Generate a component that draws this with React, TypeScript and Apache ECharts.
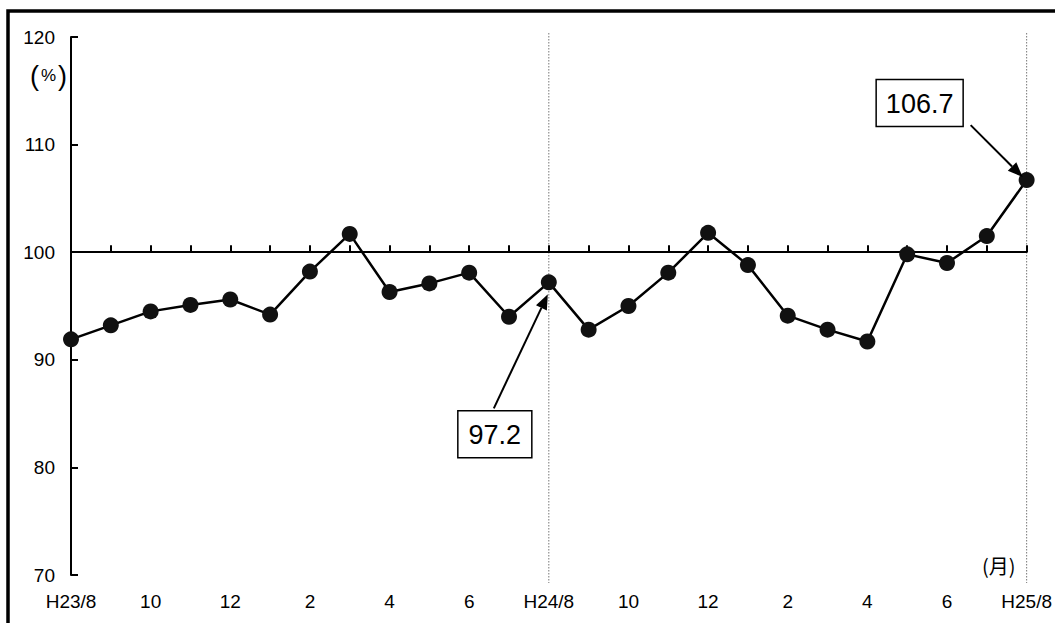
import React, { useEffect, useRef } from "react";
import * as echarts from "echarts";

const months = ["H23/8", "9", "10", "11", "12", "1", "2", "3", "4", "5", "6", "7", "H24/8", "9", "10", "11", "12", "1", "2", "3", "4", "5", "6", "7", "H25/8"];
const values = [91.9, 93.2, 94.5, 95.1, 95.6, 94.2, 98.2, 101.7, 96.3, 97.1, 98.1, 94.0, 97.2, 92.8, 95.0, 98.1, 101.8, 98.8, 94.1, 92.8, 91.7, 99.8, 99.0, 101.5, 106.7];
const yRange = [70, 120];
const yStep = 10;
const baseLevel = 100;
const dividers = ["H24/8", "H25/8"];
const callouts = [
  { index: 12, label: "97.2" },
  { index: 24, label: "106.7" },
];

const FONT = "'Liberation Sans', Arial, sans-serif";

export default function App() {
  const ref = useRef<HTMLDivElement>(null);
  useEffect(() => {
    document.body.style.margin = "0";
    document.body.style.overflow = "hidden";
    const chart = echarts.init(ref.current!, null, { renderer: "svg" });
    const H = 623;
    const grid = { left: 71, right: 23, top: 37, bottom: 48 };
    const plotH = H - grid.top - grid.bottom;
    const baseOffset = -plotH * (baseLevel - yRange[0]) / (yRange[1] - yRange[0]);

    chart.setOption({
      animation: false,
      backgroundColor: "#fff",
      grid: { ...grid, containLabel: false },
      xAxis: [
        {
          type: "category",
          data: months,
          boundaryGap: false,
          position: "bottom",
          offset: baseOffset,
          axisLine: { show: true, lineStyle: { color: "#000", width: 2 } },
          axisTick: { show: true, inside: true, length: 7, interval: 0, lineStyle: { color: "#000", width: 2 } },
          axisLabel: { show: false },
          splitLine: { show: false },
          z: 3,
        },
        {
          type: "category",
          data: months,
          boundaryGap: false,
          position: "bottom",
          axisLine: { show: false },
          axisTick: { show: false },
          axisLabel: { show: true, interval: 1, color: "#000", fontSize: 19, fontFamily: FONT, margin: 17 },
          splitLine: { show: false },
        },
      ],
      yAxis: {
        type: "value",
        min: yRange[0],
        max: yRange[1],
        interval: yStep,
        axisLine: { show: true, lineStyle: { color: "#000", width: 2 } },
        axisTick: { show: true, inside: true, length: 7, lineStyle: { color: "#000", width: 2 } },
        axisLabel: { color: "#000", fontSize: 19, fontFamily: FONT, margin: 16 },
        splitLine: { show: false },
      },
      series: [
        {
          type: "line",
          data: values,
          xAxisIndex: 0,
          symbol: "circle",
          symbolSize: 16,
          lineStyle: { color: "#000", width: 2.5 },
          itemStyle: { color: "#111" },
          z: 5,
        },
      ],
    });

    const toPx = (i: number, v: number) => chart.convertToPixel({ xAxisIndex: 0, yAxisIndex: 0 }, [i, v]) as number[];

    const elems: any[] = [];
    elems.push({
      type: "rect",
      shape: { x: 8, y: 11, width: 1200, height: 800 },
      style: { fill: "none", stroke: "#000", lineWidth: 3.5 },
      z: 10,
    });
    dividers.forEach((name) => {
      const idx = months.indexOf(name);
      const p = toPx(idx, yRange[0]);
      elems.push({
        type: "line",
        shape: { x1: p[0], y1: 33, x2: p[0], y2: 583 },
        style: { stroke: "#777", lineWidth: 1, lineDash: [1.5, 1.5] },
        z: 1,
      });
    });

    const geo: Record<number, { box: number[]; size: number[]; start: number[]; tip: number[] }> = {
      12: { box: [-54, 152], size: [74, 47], start: [-55, 126], tip: [-1, 12] },
      24: { box: [-107, -77], size: [87, 47], start: [-56, -55], tip: [-4, -3] },
    };
    callouts.forEach((c) => {
      const p = toPx(c.index, values[c.index]);
      const g = geo[c.index];
      const cx = p[0] + g.box[0], cy = p[1] + g.box[1];
      elems.push({
        type: "rect",
        shape: { x: cx - g.size[0] / 2, y: cy - g.size[1] / 2, width: g.size[0], height: g.size[1] },
        style: { fill: "#fff", stroke: "#000", lineWidth: 1.5 },
        z: 20,
      });
      elems.push({
        type: "text",
        x: cx,
        y: cy + 1,
        style: { text: c.label, fill: "#000", font: `27px ${FONT}`, align: "center", verticalAlign: "middle" },
        z: 21,
      });
      const sx = p[0] + g.start[0], sy = p[1] + g.start[1];
      const tx = p[0] + g.tip[0], ty = p[1] + g.tip[1];
      const dx = tx - sx, dy = ty - sy;
      const len = Math.sqrt(dx * dx + dy * dy);
      const ux = dx / len, uy = dy / len;
      const ah = 15, aw = 6;
      const bx = tx - ux * ah, by = ty - uy * ah;
      elems.push({
        type: "line",
        shape: { x1: sx, y1: sy, x2: bx, y2: by },
        style: { stroke: "#000", lineWidth: 2 },
        z: 20,
      });
      elems.push({
        type: "polygon",
        shape: { points: [[tx, ty], [bx - uy * aw, by + ux * aw], [bx + uy * aw, by - ux * aw]] },
        style: { fill: "#000" },
        z: 20,
      });
    });

    elems.push({
      type: "text",
      x: 30,
      y: 62,
      style: {
        text: "{p|(}{q|%}{p|)}",
        rich: {
          p: { fontSize: 27, fontFamily: FONT, fill: "#000", verticalAlign: "middle" },
          q: { fontSize: 17, fontFamily: FONT, fill: "#000", padding: [0, 2, 0, 2], verticalAlign: "middle" },
        },
        fill: "#000",
      },
      z: 20,
    });
    elems.push({
      type: "text",
      x: 982,
      y: 555,
      style: { text: "(月)", fill: "#000", font: `20px 'Noto Sans CJK JP', ${FONT}` },
      z: 20,
    });

    chart.setOption({ graphic: elems });
    return () => chart.dispose();
  }, []);
  return <div ref={ref} style={{ width: 1055, height: 623 }} />;
}
